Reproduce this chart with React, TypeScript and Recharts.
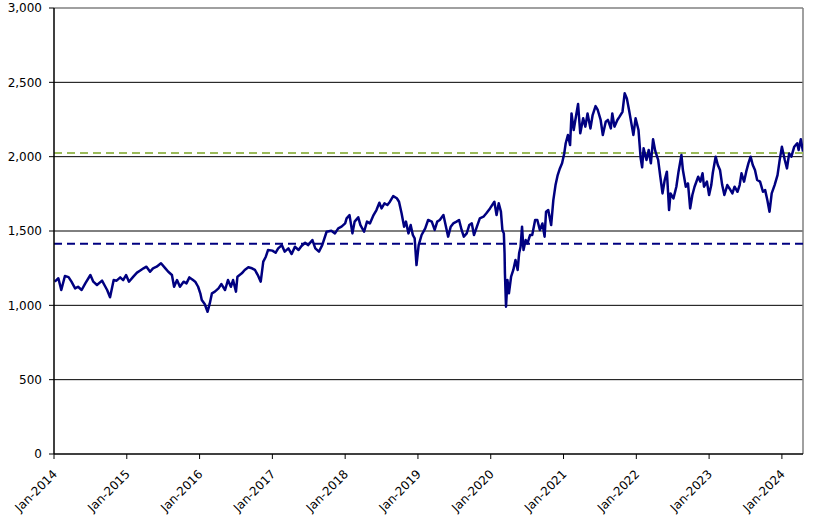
import React from "react";
import {
  LineChart,
  Line,
  XAxis,
  YAxis,
  CartesianGrid,
  ReferenceLine,
} from "recharts";

/* ---------- data ---------- */
// time as decimal years
const dates = [
  2014.01, 2014.06, 2014.1, 2014.15, 2014.2, 2014.24, 2014.29, 2014.33, 2014.38, 2014.43,
  2014.5, 2014.54, 2014.59, 2014.66, 2014.7, 2014.73, 2014.77, 2014.82, 2014.86, 2014.91,
  2014.95, 2014.99, 2015.03, 2015.09, 2015.14, 2015.18, 2015.23, 2015.27, 2015.32, 2015.36,
  2015.41, 2015.47, 2015.53, 2015.57, 2015.62, 2015.65, 2015.69, 2015.73, 2015.78, 2015.82,
  2015.86, 2015.91, 2015.94, 2015.98, 2016.01, 2016.03, 2016.07, 2016.11, 2016.14, 2016.17,
  2016.21, 2016.26, 2016.3, 2016.35, 2016.39, 2016.43, 2016.46, 2016.5, 2016.52, 2016.58,
  2016.62, 2016.67, 2016.72, 2016.76, 2016.8, 2016.84, 2016.875, 2016.91, 2016.94, 2017.0,
  2017.045, 2017.08, 2017.13, 2017.17, 2017.22, 2017.265, 2017.31, 2017.36, 2017.4, 2017.45,
  2017.49, 2017.55, 2017.59, 2017.64, 2017.685, 2017.745, 2017.81, 2017.86, 2017.905, 2017.95,
  2018.0, 2018.02, 2018.06, 2018.1, 2018.13, 2018.18, 2018.21, 2018.26, 2018.3, 2018.34,
  2018.39, 2018.43, 2018.47, 2018.5, 2018.54, 2018.58, 2018.615, 2018.66, 2018.71, 2018.74,
  2018.775, 2018.81, 2018.835, 2018.87, 2018.9, 2018.93, 2018.955, 2018.98, 2019.01, 2019.05,
  2019.1, 2019.14, 2019.19, 2019.23, 2019.265, 2019.3, 2019.35, 2019.385, 2019.415, 2019.45,
  2019.485, 2019.53, 2019.565, 2019.6, 2019.63, 2019.67, 2019.705, 2019.74, 2019.77, 2019.81,
  2019.85, 2019.9, 2019.94, 2019.99, 2020.05, 2020.08, 2020.11, 2020.14, 2020.16, 2020.18,
  2020.19, 2020.195, 2020.21, 2020.23, 2020.25, 2020.28, 2020.31, 2020.34, 2020.37, 2020.39,
  2020.41, 2020.43, 2020.45, 2020.48, 2020.505, 2020.54, 2020.57, 2020.61, 2020.64, 2020.675,
  2020.71, 2020.74, 2020.76, 2020.79, 2020.83, 2020.86, 2020.89, 2020.92, 2020.95, 2020.98,
  2021.01, 2021.03, 2021.06, 2021.09, 2021.11, 2021.14, 2021.17, 2021.2, 2021.23, 2021.27,
  2021.3, 2021.33, 2021.37, 2021.4, 2021.44, 2021.47, 2021.51, 2021.54, 2021.58, 2021.61,
  2021.65, 2021.67, 2021.7, 2021.74, 2021.77, 2021.81, 2021.84, 2021.87, 2021.9, 2021.94,
  2021.96, 2021.99, 2022.03, 2022.06, 2022.08, 2022.1, 2022.14, 2022.17, 2022.2, 2022.23,
  2022.26, 2022.3, 2022.33, 2022.36, 2022.39, 2022.42, 2022.45, 2022.47, 2022.51, 2022.55,
  2022.58, 2022.62, 2022.64, 2022.68, 2022.71, 2022.74, 2022.77, 2022.8, 2022.85, 2022.88,
  2022.91, 2022.93, 2022.97, 2023.0, 2023.03, 2023.05, 2023.09, 2023.12, 2023.15, 2023.18,
  2023.21, 2023.25, 2023.28, 2023.32, 2023.35, 2023.39, 2023.42, 2023.445, 2023.48, 2023.51,
  2023.54, 2023.57, 2023.6, 2023.63, 2023.66, 2023.7, 2023.74, 2023.77, 2023.8, 2023.83,
  2023.86, 2023.9, 2023.94, 2023.97, 2024.0, 2024.04, 2024.07, 2024.1, 2024.13, 2024.17,
  2024.21, 2024.23, 2024.26, 2024.29,
];

const values = [
  1159, 1182, 1103, 1197, 1190, 1159, 1114, 1125, 1103, 1148,
  1204, 1159, 1137, 1166, 1130, 1103, 1054, 1170, 1166, 1188,
  1170, 1204, 1159, 1193, 1220, 1233, 1249, 1260, 1226, 1249,
  1260, 1283, 1249, 1226, 1204, 1125, 1170, 1125, 1159, 1148,
  1188, 1170, 1159, 1125, 1081, 1036, 1009, 957, 1013, 1081,
  1092, 1114, 1143, 1103, 1170, 1125, 1170, 1092, 1193, 1215,
  1238, 1256, 1249, 1238, 1204, 1159, 1294, 1327, 1372, 1368,
  1354, 1383, 1405, 1361, 1383, 1345, 1394, 1372, 1399, 1421,
  1405, 1439, 1383, 1361, 1405, 1495, 1502, 1484, 1518, 1529,
  1551, 1585, 1607, 1484, 1563, 1592, 1540, 1495, 1563, 1551,
  1607, 1641, 1690, 1652, 1686, 1675, 1697, 1735, 1720, 1697,
  1619, 1529, 1563, 1484, 1540, 1473, 1450, 1271, 1405, 1473,
  1518, 1574, 1563, 1507, 1563, 1574, 1607, 1529, 1462, 1529,
  1551, 1563, 1574, 1507, 1462, 1484, 1540, 1551, 1473, 1529,
  1585, 1596, 1619, 1652, 1697, 1607, 1686, 1630, 1507, 1484,
  1350, 1215, 991, 1170, 1081, 1193, 1238, 1305, 1238, 1350,
  1394, 1529, 1372, 1439, 1417, 1473, 1473, 1574, 1574, 1507,
  1551, 1462, 1630, 1641, 1540, 1708, 1809, 1876, 1921, 1955,
  2022, 2090, 2146, 2078, 2291, 2179, 2269, 2354, 2157, 2258,
  2202, 2291, 2190, 2280, 2340, 2314, 2247, 2146, 2235, 2247,
  2190, 2291, 2202, 2247, 2269, 2302, 2426, 2392, 2314, 2202,
  2146, 2258, 2179, 1989, 1928, 2056, 1978, 2045, 1955, 2117,
  2039, 1978, 1865, 1753, 1843, 1899, 1641, 1753, 1719, 1798,
  1899, 2011, 1910, 1798, 1820, 1652, 1742, 1798, 1865, 1832,
  1888, 1798, 1832, 1742, 1809, 1888, 2000, 1944, 1910, 1809,
  1742, 1809, 1786, 1753, 1798, 1764, 1809, 1888, 1832, 1899,
  1955, 2000, 1944, 1910, 1843, 1832, 1764, 1775, 1708, 1630,
  1753, 1809, 1876, 1978, 2067, 1978, 1921, 2022, 2000, 2067,
  2090, 2045, 2117, 2034,
];

const xTicks = [2014, 2015, 2016, 2017, 2018, 2019, 2020, 2021, 2022, 2023, 2024];
const yTicks = [0, 500, 1000, 1500, 2000, 2500, 3000];
const xEnd = 2024.29;

const avgLevel = 1414; // navy dashed
const currentLevel = 2025; // green dashed

const chartData = dates.map((d, i) => ({ t: d, v: values[i] }));

const font = "'DejaVu Sans', Verdana, sans-serif";

const XTick = (props: any) => {
  const { x, y, payload } = props;
  const ax = x + 1;
  const ay = y + 11;
  return (
    <text
      x={ax}
      y={ay}
      transform={`rotate(-45, ${ax}, ${ay})`}
      textAnchor="end"
      dominantBaseline="central"
      fontSize={12}
      fontFamily={font}
      fill="#000"
    >
      {`Jan-${payload.value}`}
    </text>
  );
};

export default function App() {
  return (
    <div style={{ position: "absolute", left: 0, top: 0, background: "#fff" }}>
      <LineChart
        width={827}
        height={530}
        data={chartData}
        margin={{ top: 8, right: 24, left: 0, bottom: 0 }}
      >
        <CartesianGrid vertical={false} stroke="#000" horizontalValues={[500, 1000, 1500, 2000, 2500]} />
        <XAxis
          dataKey="t"
          type="number"
          domain={[2014, xEnd]}
          ticks={xTicks}
          tick={<XTick />}
          height={76}
          tickSize={5}
          axisLine={{ stroke: "#000", strokeWidth: 1.5 }}
          tickLine={{ stroke: "#000" }}
          interval={0}
          allowDataOverflow
        />
        <YAxis
          type="number"
          domain={[0, 3000]}
          ticks={yTicks}
          width={54}
          tickSize={5}
          tickMargin={7}
          interval={0}
          tickFormatter={(v: number) => v.toLocaleString("en-US")}
          tick={{ fontSize: 12, fontFamily: font, fill: "#000" }}
          axisLine={{ stroke: "#000", strokeWidth: 1.5 }}
          tickLine={{ stroke: "#000" }}
        />
        <ReferenceLine y={3000} stroke="#808080" strokeWidth={1.5} />
        <ReferenceLine x={xEnd} stroke="#808080" strokeWidth={1.5} />
        <ReferenceLine y={currentLevel} stroke="#9bbb59" strokeWidth={2} strokeDasharray="8 5" />
        <ReferenceLine y={avgLevel} stroke="#000080" strokeWidth={2} strokeDasharray="8 5" />
        <Line
          type="linear"
          dataKey="v"
          stroke="#000080"
          strokeWidth={2.5}
          strokeLinejoin="round"
          dot={false}
          isAnimationActive={false}
        />
      </LineChart>
    </div>
  );
}
